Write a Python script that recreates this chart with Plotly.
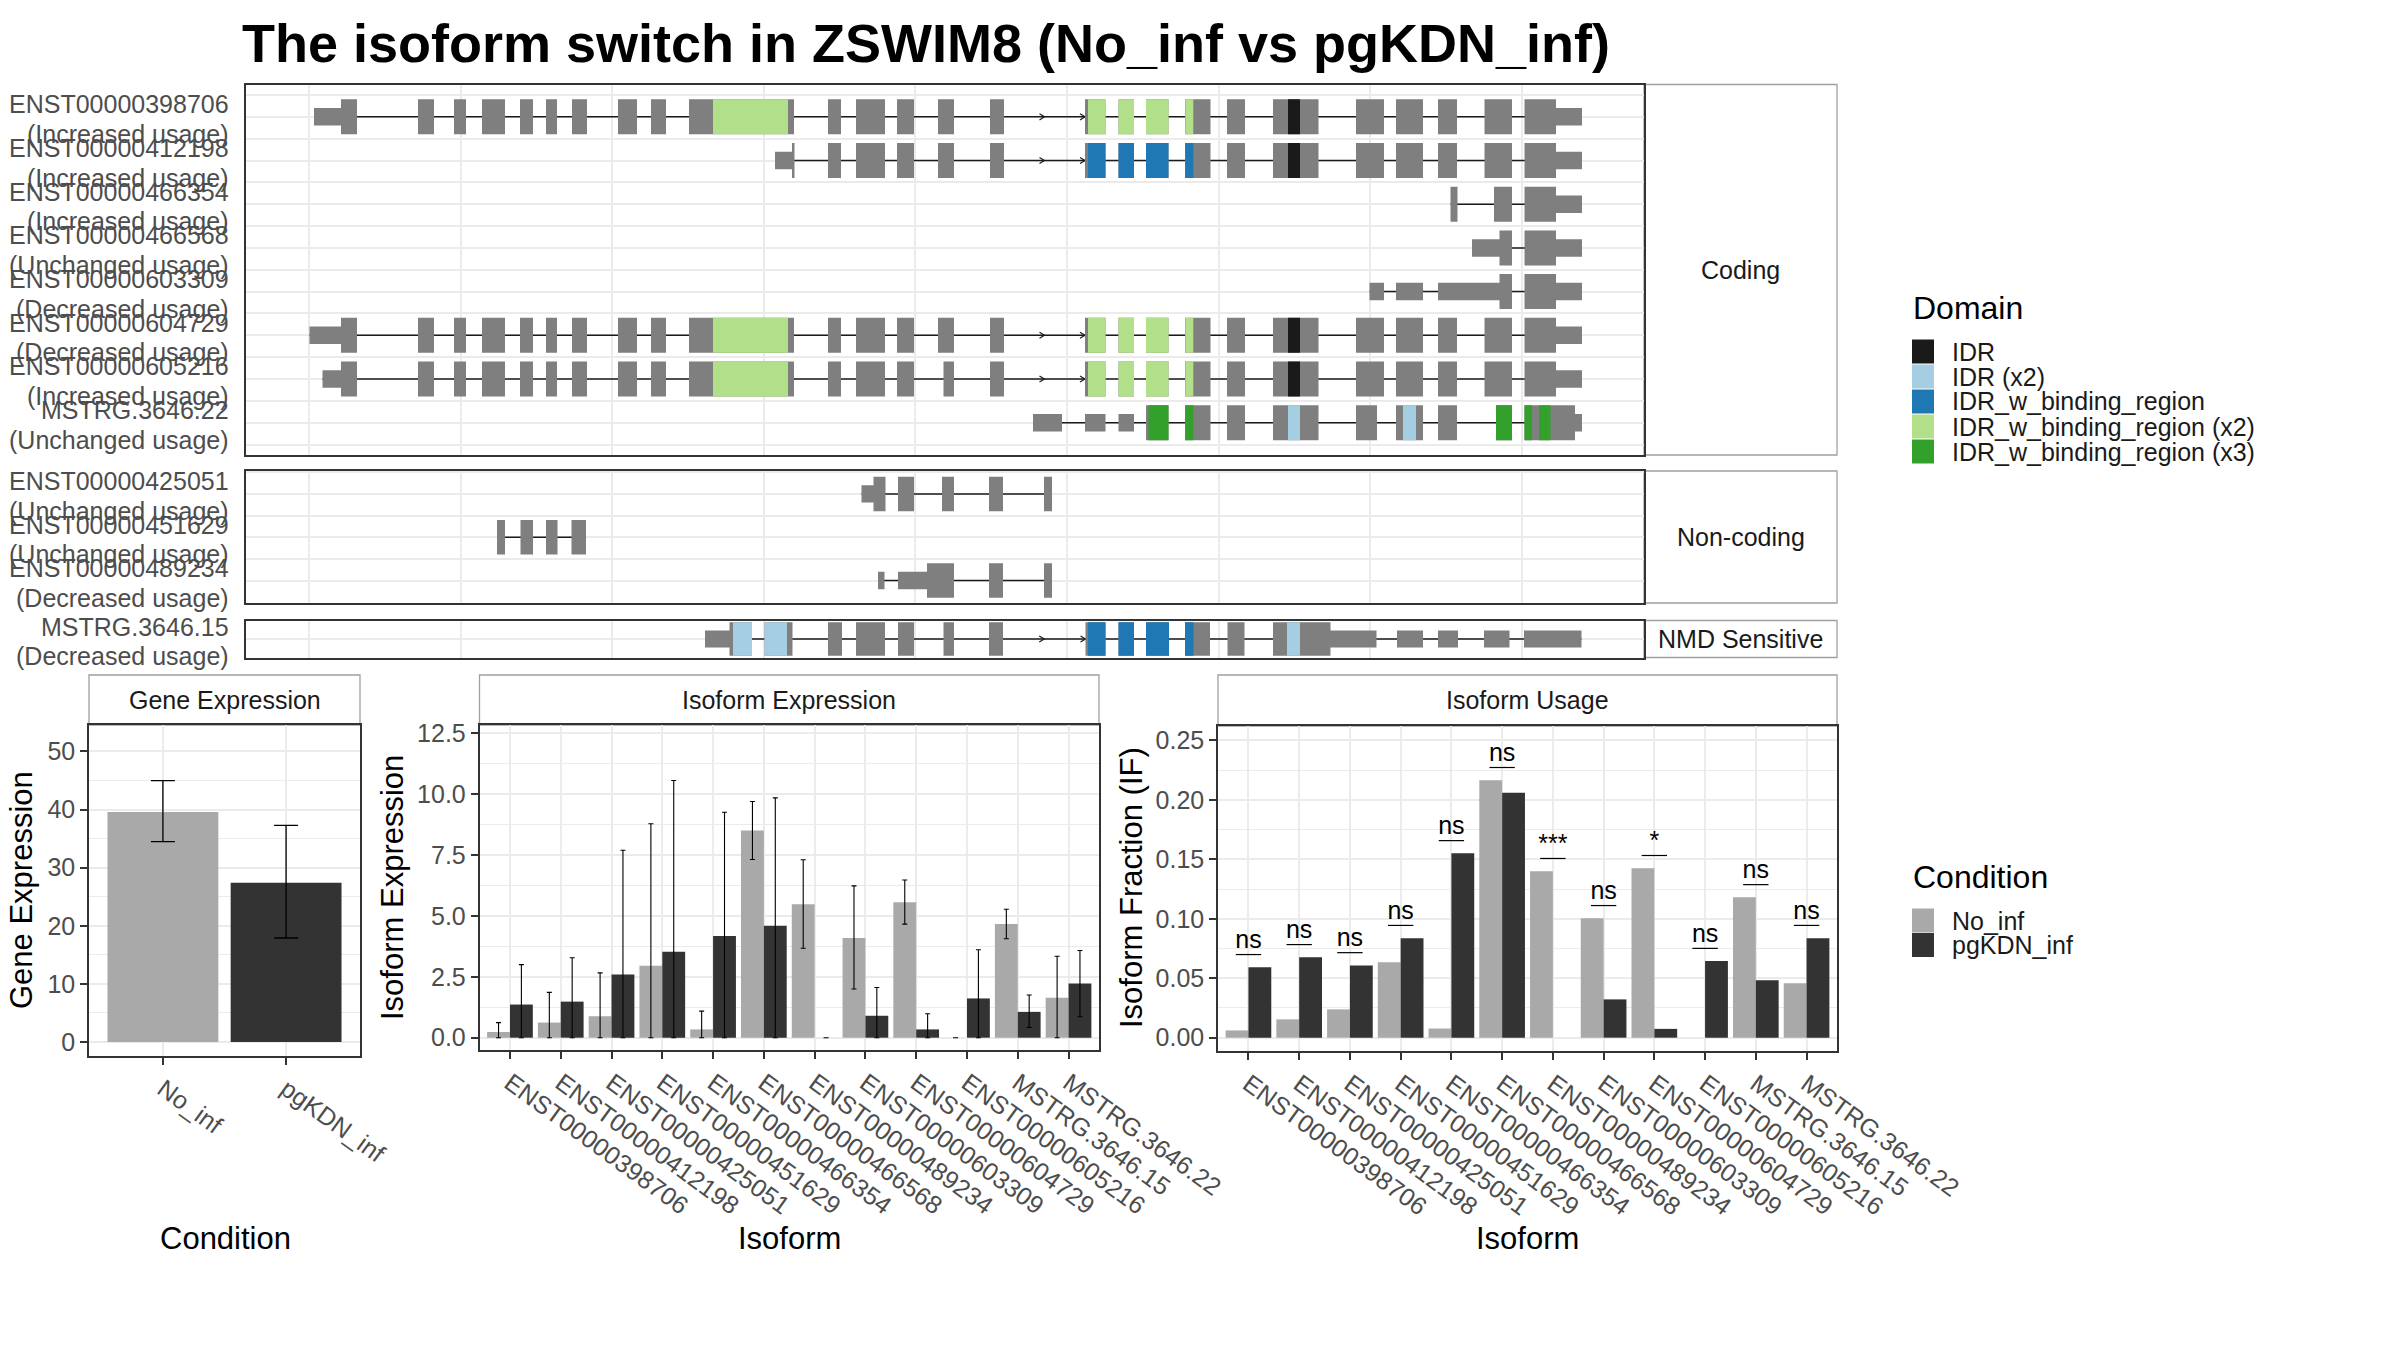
import plotly.graph_objects as go

W, H = 2400, 1350
FONT = "Liberation Sans, Arial, Helvetica, sans-serif"

# ---------------------------------------------------------------- data
title_text = "The isoform switch in ZSWIM8 (No_inf vs pgKDN_inf)"

conditions = ["No_inf", "pgKDN_inf"]
gene_mean = [39.6, 27.4]
gene_low = [34.5, 17.9]
gene_high = [45.0, 37.3]

isoforms = ["ENST00000398706", "ENST00000412198", "ENST00000425051", "ENST00000451629",
            "ENST00000466354", "ENST00000466568", "ENST00000489234", "ENST00000603309",
            "ENST00000604729", "ENST00000605216", "MSTRG.3646.15", "MSTRG.3646.22"]
iso_expr_no = [0.23, 0.62, 0.88, 2.95, 0.34, 8.50, 5.48, 4.09, 5.56, 0.0, 4.67, 1.64]
iso_expr_no_low = [0.0, 0.0, 0.0, 0.0, 0.0, 7.31, 3.67, 2.00, 4.66, 0.0, 4.06, 0.0]
iso_expr_no_high = [0.62, 1.86, 2.66, 8.78, 1.09, 9.69, 7.30, 6.23, 6.47, 0.0, 5.27, 3.34]
iso_expr_pg = [1.36, 1.48, 2.59, 3.53, 4.17, 4.59, 0.0, 0.90, 0.34, 1.61, 1.06, 2.22]
iso_expr_pg_low = [0.0, 0.0, 0.0, 0.0, 0.0, 0.0, 0.0, 0.0, 0.0, 0.0, 0.42, 0.86]
iso_expr_pg_high = [3.00, 3.28, 7.69, 10.55, 9.25, 9.84, 0.0, 2.06, 0.98, 3.61, 1.75, 3.58]

iso_usage_no = [0.0061, 0.0154, 0.0238, 0.0634, 0.0077, 0.2165, 0.1400, 0.1004, 0.1425, 0.0, 0.1180, 0.0457]
iso_usage_pg = [0.0592, 0.0676, 0.0608, 0.0837, 0.1550, 0.2060, 0.0, 0.0322, 0.0074, 0.0644, 0.0483, 0.0837]
usage_sig = ["ns", "ns", "ns", "ns", "ns", "ns", "***", "ns", "*", "ns", "ns", "ns"]

domain_names = ["IDR", "IDR (x2)", "IDR_w_binding_region", "IDR_w_binding_region (x2)",
                "IDR_w_binding_region (x3)"]

# transcript structures (intron-compressed coordinates): (start, end, thick/thin)
ex_ENST00000398706 = [(314, 341, "thin"), (341, 357, "thick"), (418, 434, "thick"), (454, 466, "thick"),
                      (482, 505, "thick"), (520, 533, "thick"), (546, 557, "thick"), (572, 587, "thick"),
                      (618, 637, "thick"), (651, 666, "thick"), (689, 794, "thick"), (828, 841, "thick"),
                      (856, 885, "thick"), (897, 914, "thick"), (938, 954, "thick"), (990, 1004, "thick"),
                      (1085, 1105.5, "thick"), (1118.5, 1134, "thick"), (1146, 1168.5, "thick"),
                      (1185, 1210.5, "thick"), (1227, 1245, "thick"), (1273, 1318.5, "thick"),
                      (1356, 1384, "thick"), (1396, 1423, "thick"), (1438, 1457, "thick"),
                      (1484.5, 1512, "thick"), (1524.5, 1556, "thick"), (1556, 1582, "thin")]
dom_ENST00000398706 = [(713, 788, "IDR_w_binding_region (x2)"), (1088, 1105.5, "IDR_w_binding_region (x2)"),
                       (1118.5, 1134, "IDR_w_binding_region (x2)"), (1146, 1168.5, "IDR_w_binding_region (x2)"),
                       (1185.3, 1193.3, "IDR_w_binding_region (x2)"), (1288, 1300, "IDR")]

ex_ENST00000412198 = [(775, 792, "thin"), (792, 794.5, "thick"), (828, 841, "thick"), (856, 885, "thick"),
                      (897, 914, "thick"), (938, 954, "thick"), (990, 1004, "thick"), (1085, 1105.5, "thick"),
                      (1118.5, 1134, "thick"), (1146, 1168.5, "thick"), (1185, 1210.5, "thick"),
                      (1227, 1245, "thick"), (1273, 1318.5, "thick"), (1356, 1384, "thick"),
                      (1396, 1423, "thick"), (1438, 1457, "thick"), (1484.5, 1512, "thick"),
                      (1524.5, 1556, "thick"), (1556, 1582, "thin")]
dom_ENST00000412198 = [(1088, 1105.5, "IDR_w_binding_region"), (1118.5, 1134, "IDR_w_binding_region"),
                       (1146, 1168.5, "IDR_w_binding_region"), (1185.3, 1193.3, "IDR_w_binding_region"),
                       (1288, 1300, "IDR")]

ex_ENST00000466354 = [(1450.5, 1457.5, "thick"), (1494, 1512, "thick"), (1524.5, 1556, "thick"), (1556, 1582, "thin")]
dom_ENST00000466354 = []

ex_ENST00000466568 = [(1472, 1499.5, "thin"), (1499.5, 1512, "thick"), (1524.5, 1556, "thick"), (1556, 1582, "thin")]
dom_ENST00000466568 = []

ex_ENST00000603309 = [(1369.5, 1384, "thin"), (1396, 1423, "thin"), (1438, 1499.5, "thin"),
                      (1499.5, 1512, "thick"), (1524.5, 1556, "thick"), (1556, 1582, "thin")]
dom_ENST00000603309 = []

ex_ENST00000604729 = [(309.5, 341, "thin")] + ex_ENST00000398706[1:]
dom_ENST00000604729 = list(dom_ENST00000398706)

ex_ENST00000605216 = ([(322.5, 341, "thin")] + ex_ENST00000398706[1:14]
                      + [(943.5, 954, "thick")] + ex_ENST00000398706[15:])
dom_ENST00000605216 = list(dom_ENST00000398706)

ex_MSTRG_3646_22 = [(1033, 1062, "thin"), (1085, 1105.5, "thin"), (1118.5, 1134, "thin"),
                    (1146, 1168.5, "thick"), (1185, 1210.5, "thick"), (1227, 1245, "thick"),
                    (1273, 1318.5, "thick"), (1356, 1377, "thick"), (1396, 1423, "thick"),
                    (1438, 1457, "thick"), (1496, 1512, "thick"), (1524.5, 1575, "thick"), (1575, 1582, "thin")]
dom_MSTRG_3646_22 = [(1148.5, 1168.5, "IDR_w_binding_region (x3)"), (1185.3, 1193.3, "IDR_w_binding_region (x3)"),
                     (1288, 1300, "IDR (x2)"), (1403, 1416, "IDR (x2)"),
                     (1496, 1512, "IDR_w_binding_region (x3)"), (1524.5, 1532, "IDR_w_binding_region (x3)"),
                     (1539, 1550.5, "IDR_w_binding_region (x3)")]

ex_ENST00000425051 = [(861.5, 873.5, "thin"), (873.5, 885.5, "thick"), (898, 914, "thick"), (942, 954, "thick"),
                      (989, 1003, "thick"), (1044, 1052, "thick")]
dom_ENST00000425051 = []
ex_ENST00000451629 = [(497, 505, "thick"), (520.5, 533, "thick"), (546, 557.5, "thick"), (571.5, 586, "thick")]
dom_ENST00000451629 = []
ex_ENST00000489234 = [(878, 884.5, "thin"), (898, 927, "thin"), (927, 954, "thick"), (989, 1003, "thick"),
                      (1044, 1052, "thick")]
dom_ENST00000489234 = []

ex_MSTRG_3646_15 = [(705, 729.5, "thin"), (729.5, 752, "thick"), (764.5, 792.5, "thick"), (828, 842, "thick"),
                    (856, 885, "thick"), (898, 914, "thick"), (943.5, 954, "thick"), (989, 1003, "thick"),
                    (1085.5, 1105.5, "thick"), (1118.5, 1134, "thick"), (1146, 1169, "thick"),
                    (1185, 1210, "thick"), (1227.5, 1244.5, "thick"), (1273, 1330.5, "thick"),
                    (1330.5, 1376.5, "thin"), (1397, 1423, "thin"), (1438, 1458, "thin"),
                    (1484, 1509.5, "thin"), (1524, 1581.5, "thin")]
dom_MSTRG_3646_15 = [(733, 752, "IDR (x2)"), (764.5, 787, "IDR (x2)"), (1088, 1105.5, "IDR_w_binding_region"),
                     (1118.5, 1134, "IDR_w_binding_region"), (1146, 1169, "IDR_w_binding_region"),
                     (1185, 1193.5, "IDR_w_binding_region"), (1287, 1300, "IDR (x2)")]

coding_names = ["ENST00000398706", "ENST00000412198", "ENST00000466354", "ENST00000466568",
                "ENST00000603309", "ENST00000604729", "ENST00000605216", "MSTRG.3646.22"]
coding_usage = ["Increased usage", "Increased usage", "Increased usage", "Unchanged usage",
                "Decreased usage", "Decreased usage", "Increased usage", "Unchanged usage"]
coding_exons = [ex_ENST00000398706, ex_ENST00000412198, ex_ENST00000466354, ex_ENST00000466568,
                ex_ENST00000603309, ex_ENST00000604729, ex_ENST00000605216, ex_MSTRG_3646_22]
coding_domains = [dom_ENST00000398706, dom_ENST00000412198, dom_ENST00000466354, dom_ENST00000466568,
                  dom_ENST00000603309, dom_ENST00000604729, dom_ENST00000605216, dom_MSTRG_3646_22]

noncoding_names = ["ENST00000425051", "ENST00000451629", "ENST00000489234"]
noncoding_usage = ["Unchanged usage", "Unchanged usage", "Decreased usage"]
noncoding_exons = [ex_ENST00000425051, ex_ENST00000451629, ex_ENST00000489234]
noncoding_domains = [dom_ENST00000425051, dom_ENST00000451629, dom_ENST00000489234]

nmd_names = ["MSTRG.3646.15"]
nmd_usage = ["Decreased usage"]
nmd_exons = [ex_MSTRG_3646_15]
nmd_domains = [dom_MSTRG_3646_15]

# ---------------------------------------------------------------- styles
EXON_GREY = "#7F7F7F"
DOMAIN_COLORS = {"IDR": "#1A1A1A", "IDR (x2)": "#A6CEE3", "IDR_w_binding_region": "#1F78B4",
                 "IDR_w_binding_region (x2)": "#B2DF8A", "IDR_w_binding_region (x3)": "#33A02C"}
COND_COLORS = ["#A9A9A9", "#333333"]
GRID = "#EBEBEB"
BORDER = "#333333"
TICKTXT = "#4D4D4D"
STRIPLINE = "#A0A0A0"


def px_x(v):
    return v / W


def px_y(v):
    return 1 - v / H


fig = go.Figure()

# ---------------------------------------------------------------- transcript panels
THICK, THIN = 0.4, 0.2


def add_tx_panel(exons_list, domains_list, xa, ya):
    lx, ly, gx, gy, ax, ay = [], [], [], [], [], []
    dom_pts = {d: ([], []) for d in domain_names}
    for i, (exons, doms) in enumerate(zip(exons_list, domains_list)):
        r = i + 1
        starts = [e[0] for e in exons]
        ends = [e[1] for e in exons]
        lx += [min(starts), max(ends), None]
        ly += [r, r, None]
        for s, e, kind in exons:
            h = THICK if kind == "thick" else THIN
            gx += [s, e, e, s, s, None]
            gy += [r - h, r - h, r + h, r + h, r - h, None]
        for s, e, d in doms:
            px_, py_ = dom_pts[d]
            px_ += [s, e, e, s, s, None]
            py_ += [r - THICK, r - THICK, r + THICK, r + THICK, r - THICK, None]
        srt = sorted(exons)
        for a, b in zip(srt[:-1], srt[1:]):
            if b[0] - a[1] > 70:
                for m in [(a[1] + b[0]) / 2, b[0]]:
                    ax += [m - 5, m, m - 5, None]
                    ay += [r - 0.07, r, r + 0.07, None]
    fig.add_trace(go.Scatter(x=lx, y=ly, mode="lines", line=dict(color="#1A1A1A", width=1.5),
                             xaxis=xa, yaxis=ya, showlegend=False, hoverinfo="skip"))
    fig.add_trace(go.Scatter(x=ax, y=ay, mode="lines", line=dict(color="#1A1A1A", width=1.2),
                             xaxis=xa, yaxis=ya, showlegend=False, hoverinfo="skip"))
    fig.add_trace(go.Scatter(x=gx, y=gy, mode="lines", fill="toself", fillcolor=EXON_GREY,
                             line=dict(width=0, color=EXON_GREY), xaxis=xa, yaxis=ya,
                             showlegend=False, hoverinfo="skip"))
    for d in domain_names:
        px_, py_ = dom_pts[d]
        if px_:
            fig.add_trace(go.Scatter(x=px_, y=py_, mode="lines", fill="toself",
                                     fillcolor=DOMAIN_COLORS[d], line=dict(width=0, color=DOMAIN_COLORS[d]),
                                     xaxis=xa, yaxis=ya, name=d, showlegend=False, hoverinfo="skip"))


add_tx_panel(coding_exons, coding_domains, "x", "y")
add_tx_panel(noncoding_exons, noncoding_domains, "x2", "y2")
add_tx_panel(nmd_exons, nmd_domains, "x3", "y3")

# ---------------------------------------------------------------- gene expression
cond_idx = list(range(len(conditions)))
fig.add_trace(go.Bar(
    x=cond_idx, y=gene_mean, width=0.9, marker=dict(color=COND_COLORS, line=dict(width=0)),
    error_y=dict(type="data", symmetric=False,
                 array=[h - m for h, m in zip(gene_high, gene_mean)],
                 arrayminus=[m - l for m, l in zip(gene_mean, gene_low)],
                 color="#000000", thickness=1.3, width=12),
    xaxis="x4", yaxis="y4", showlegend=False, hoverinfo="skip"))

# ---------------------------------------------------------------- isoform expression
iso_idx = list(range(len(isoforms)))
for vals, lo, hi, col, nm in [(iso_expr_no, iso_expr_no_low, iso_expr_no_high, COND_COLORS[0], conditions[0]),
                              (iso_expr_pg, iso_expr_pg_low, iso_expr_pg_high, COND_COLORS[1], conditions[1])]:
    fig.add_trace(go.Bar(
        x=iso_idx, y=vals, name=nm, marker=dict(color=col, line=dict(width=0)),
        error_y=dict(type="data", symmetric=False,
                     array=[h - v for h, v in zip(hi, vals)],
                     arrayminus=[v - l for v, l in zip(vals, lo)],
                     color="#000000", thickness=1.1, width=2.5),
        xaxis="x5", yaxis="y5", showlegend=False, hoverinfo="skip"))

# ---------------------------------------------------------------- isoform usage
for vals, col, nm in [(iso_usage_no, COND_COLORS[0], conditions[0]),
                      (iso_usage_pg, COND_COLORS[1], conditions[1])]:
    fig.add_trace(go.Bar(x=iso_idx, y=vals, name=nm, marker=dict(color=col, line=dict(width=0)),
                         xaxis="x6", yaxis="y6", showlegend=False, hoverinfo="skip"))

SIG_OFFSET = 0.0107
sig_y = [max(a, b) + SIG_OFFSET for a, b in zip(iso_usage_no, iso_usage_pg)]
sx, sy = [], []
for i, yv in zip(iso_idx, sig_y):
    sx += [i - 0.25, i + 0.25, None]
    sy += [yv, yv, None]
fig.add_trace(go.Scatter(x=sx, y=sy, mode="lines", line=dict(color="#000000", width=1.2),
                         xaxis="x6", yaxis="y6", showlegend=False, hoverinfo="skip"))
fig.add_trace(go.Scatter(x=iso_idx, y=sig_y, mode="text", text=usage_sig, textposition="top center",
                         textfont=dict(size=25, color="#000000", family=FONT),
                         xaxis="x6", yaxis="y6", showlegend=False, hoverinfo="skip"))

# ---------------------------------------------------------------- axes
TX_X = [px_x(246), px_x(1644)]


def tx_xaxis(anchor):
    return dict(domain=TX_X, range=[246, 1644], anchor=anchor, showticklabels=False, ticks="",
                showgrid=True, gridcolor=GRID, gridwidth=2, tick0=309, dtick=151.6, zeroline=False,
                showline=True, mirror=True, linecolor=BORDER, linewidth=1.5, automargin=False, fixedrange=True)


def tx_yaxis(anchor, top, bottom, rng):
    return dict(domain=[px_y(bottom), px_y(top)], range=rng, anchor=anchor, showticklabels=False, ticks="",
                showgrid=True, gridcolor=GRID, gridwidth=1.5, tick0=0, dtick=0.5, zeroline=False,
                showline=True, mirror=True, linecolor=BORDER, linewidth=1.5, automargin=False, fixedrange=True)


def bar_xaxis(anchor, left, right, rng, vals, texts):
    return dict(domain=[px_x(left), px_x(right)], range=rng, anchor=anchor, tickmode="array",
                tickvals=vals, ticktext=texts, tickangle=36,
                tickfont=dict(size=25, color=TICKTXT, family=FONT), ticks="outside", ticklen=7,
                tickwidth=2, tickcolor=BORDER, showgrid=True, gridcolor=GRID, gridwidth=2, zeroline=False,
                showline=True, mirror=True, linecolor=BORDER, linewidth=1.5, automargin=False)


def bar_yaxis(anchor, top, bottom, rng, dtick, minor, fmt):
    return dict(domain=[px_y(bottom), px_y(top)], range=rng, anchor=anchor, tickmode="linear", tick0=0,
                dtick=dtick, tickformat=fmt, tickfont=dict(size=25, color=TICKTXT, family=FONT),
                ticks="outside", ticklen=7, tickwidth=2, tickcolor=BORDER, showgrid=True, gridcolor=GRID,
                gridwidth=2, minor=dict(tick0=0, dtick=minor, showgrid=True, gridcolor=GRID, gridwidth=1, ticks=""),
                zeroline=False, showline=True, mirror=True, linecolor=BORDER, linewidth=1.5, automargin=False)


layout = dict(
    width=W, height=H, autosize=False, margin=dict(l=0, r=0, t=0, b=0),
    paper_bgcolor="white", plot_bgcolor="white", barmode="group", bargap=0.1, bargroupgap=0,
    font=dict(family=FONT, color="#1A1A1A"), showlegend=False,
    xaxis=tx_xaxis("y"), xaxis2=tx_xaxis("y2"), xaxis3=tx_xaxis("y3"),
    yaxis=tx_yaxis("x", 84.5, 455, [8.74, 0.26]),
    yaxis2=tx_yaxis("x2", 471, 603, [3.52, 0.47]),
    yaxis3=tx_yaxis("x3", 620.5, 657.5, [1.44, 0.56]),
    xaxis4=bar_xaxis("y4", 89, 360, [-0.6, 1.6], cond_idx, conditions),
    yaxis4=bar_yaxis("x4", 725, 1056, [-2.41, 54.56], 10, 5, "d"),
    xaxis5=bar_xaxis("y5", 479.5, 1099, [-0.6, 11.6], iso_idx, isoforms),
    yaxis5=bar_yaxis("x5", 725, 1050, [-0.505, 12.83], 2.5, 1.25, ".1f"),
    xaxis6=bar_xaxis("y6", 1218, 1837, [-0.6, 11.6], iso_idx, isoforms),
    yaxis6=bar_yaxis("x6", 726, 1051, [-0.0112, 0.2621], 0.05, 0.025, ".2f"),
)
fig.update_layout(**layout)

shapes = []
annots = []


def strip_box(x0, y0, x1, y1, text):
    shapes.append(dict(type="rect", xref="paper", yref="paper", x0=px_x(x0), x1=px_x(x1),
                       y0=px_y(y1), y1=px_y(y0), fillcolor="white",
                       line=dict(color=STRIPLINE, width=1.3), layer="below"))
    annots.append(dict(xref="paper", yref="paper", x=px_x((x0 + x1) / 2), y=px_y((y0 + y1) / 2),
                       text=text, showarrow=False, xanchor="center", yanchor="middle",
                       font=dict(size=25, color="#1A1A1A", family=FONT)))


# right strips of transcript panels
strip_box(1644, 84.5, 1837, 455, "Coding")
strip_box(1644, 471, 1837, 603, "Non-coding")
strip_box(1644, 620.5, 1837, 657.5, "NMD Sensitive")
# top strips of bar panels
strip_box(89, 675, 360, 725, "Gene Expression")
strip_box(479.5, 675, 1099, 725, "Isoform Expression")
strip_box(1218, 675, 1837, 726, "Isoform Usage")

# transcript row labels
for names, usage, yref in [(coding_names, coding_usage, "y"), (noncoding_names, noncoding_usage, "y2"),
                           (nmd_names, nmd_usage, "y3")]:
    for i, (n, u) in enumerate(zip(names, usage)):
        annots.append(dict(xref="paper", yref=yref, x=px_x(231), y=i + 1, yshift=12.5, text=n,
                           showarrow=False, xanchor="right", yanchor="middle",
                           font=dict(size=25, color=TICKTXT, family=FONT)))
        annots.append(dict(xref="paper", yref=yref, x=px_x(231), y=i + 1, yshift=-17, text="(" + u + ")",
                           showarrow=False, xanchor="right", yanchor="middle",
                           font=dict(size=25, color=TICKTXT, family=FONT)))

# title
annots.append(dict(xref="paper", yref="paper", x=px_x(240), y=px_y(43), text="<b>" + title_text + "</b>",
                   showarrow=False, xanchor="left", yanchor="middle",
                   font=dict(size=54, color="#000000", family=FONT)))

# axis titles
for x, y, txt, ang in [(22, 890, "Gene Expression", -90), (392, 888, "Isoform Expression", -90),
                       (1131, 888, "Isoform Fraction (IF)", -90), (225, 1238, "Condition", 0),
                       (789, 1238, "Isoform", 0), (1527, 1238, "Isoform", 0)]:
    annots.append(dict(xref="paper", yref="paper", x=px_x(x), y=px_y(y), text=txt, textangle=ang,
                       showarrow=False, xanchor="center", yanchor="middle",
                       font=dict(size=31, color="#000000", family=FONT)))

# legends (drawn manually to match ggplot key spacing)
annots.append(dict(xref="paper", yref="paper", x=px_x(1911), y=px_y(308), text="Domain", showarrow=False,
                   xanchor="left", yanchor="middle", font=dict(size=32, color="#000000", family=FONT)))
for k, d in enumerate(domain_names):
    cy = 351.5 + 25 * k
    shapes.append(dict(type="rect", xref="paper", yref="paper", x0=px_x(1912), x1=px_x(1934),
                       y0=px_y(cy + 12), y1=px_y(cy - 12), fillcolor=DOMAIN_COLORS[d], line=dict(width=0)))
    annots.append(dict(xref="paper", yref="paper", x=px_x(1950), y=px_y(cy), text=d, showarrow=False,
                       xanchor="left", yanchor="middle", font=dict(size=25, color="#1A1A1A", family=FONT)))

annots.append(dict(xref="paper", yref="paper", x=px_x(1911), y=px_y(877), text="Condition", showarrow=False,
                   xanchor="left", yanchor="middle", font=dict(size=32, color="#000000", family=FONT)))
for k, c in enumerate(conditions):
    cy = 920.5 + 24.5 * k
    shapes.append(dict(type="rect", xref="paper", yref="paper", x0=px_x(1912), x1=px_x(1934),
                       y0=px_y(cy + 12), y1=px_y(cy - 12), fillcolor=COND_COLORS[k], line=dict(width=0)))
    annots.append(dict(xref="paper", yref="paper", x=px_x(1950), y=px_y(cy), text=c, showarrow=False,
                       xanchor="left", yanchor="middle", font=dict(size=25, color="#1A1A1A", family=FONT)))

fig.update_layout(shapes=shapes, annotations=annots)

fig.write_html("out.html", config={"displayModeBar": False},
               post_script="document.body.style.margin='0px';")
